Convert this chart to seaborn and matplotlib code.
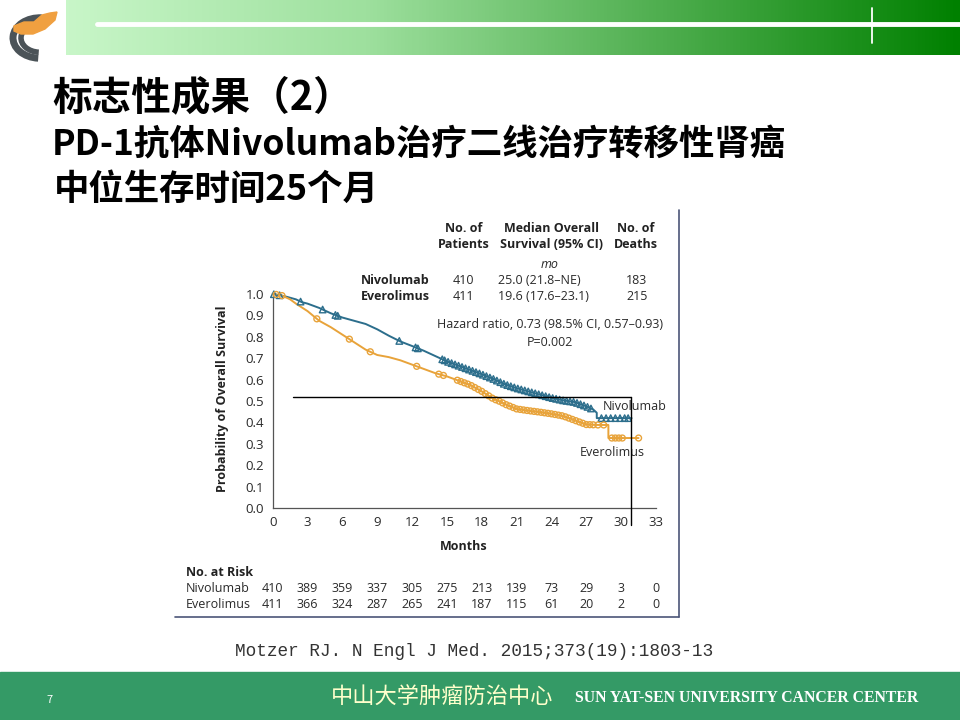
import numpy as np
import matplotlib
matplotlib.use("Agg")
import matplotlib.pyplot as plt
import matplotlib.transforms as mtransforms
from matplotlib.patches import Rectangle, Arc, Polygon
import seaborn as sns

''' Data read off the slide '''
# Kaplan-Meier curve points (months, probability of overall survival)
nivo_t = [0.0, 1.0, 2.0, 2.5, 3.0, 4.0, 5.0, 6.0, 7.0, 8.0, 9.0, 10.0, 11.0, 12.0, 13.0, 14.0,
          15.0, 16.0, 17.0, 18.0, 19.0, 20.0, 21.0, 22.0, 23.0, 24.0, 25.0, 26.0, 27.0, 27.6,
          27.9, 27.9, 30.9]
nivo_s = [1.0, 0.99, 0.975, 0.962, 0.955, 0.935, 0.91, 0.89, 0.875, 0.86, 0.835, 0.805, 0.778,
          0.757, 0.735, 0.71, 0.685, 0.665, 0.645, 0.625, 0.603, 0.578, 0.56, 0.545, 0.53,
          0.515, 0.503, 0.495, 0.475, 0.46, 0.445, 0.42, 0.42]
ever_t = [0.0, 0.7, 1.5, 2.0, 3.0, 4.0, 5.0, 6.0, 7.0, 8.0, 9.0, 10.0, 11.0, 12.0, 13.0, 14.0,
          15.0, 16.0, 17.0, 18.0, 19.0, 19.6, 20.0, 21.0, 22.0, 23.0, 24.0, 25.0, 26.0, 27.0,
          28.0, 28.9, 28.9, 31.5]
ever_s = [1.0, 0.995, 0.975, 0.955, 0.92, 0.875, 0.845, 0.81, 0.775, 0.74, 0.715, 0.705, 0.69,
          0.67, 0.65, 0.63, 0.615, 0.595, 0.575, 0.545, 0.51, 0.497, 0.485, 0.463, 0.455,
          0.448, 0.44, 0.43, 0.41, 0.39, 0.388, 0.388, 0.327, 0.327]

# censoring marks (months)
nivo_cens = [0.1, 0.6, 2.4, 4.3, 5.4, 5.6, 10.9, 12.3, 12.5, 14.6, 14.8, 15.1, 15.4, 15.7, 16.0,
             16.3, 16.6, 16.9, 17.2, 17.5, 17.8, 18.1, 18.4, 18.7, 19.0, 19.3, 19.6, 19.9,
             20.2, 20.5, 20.8, 21.1, 21.4, 21.7, 22.0, 22.3, 22.6, 22.9, 23.2, 23.5, 23.8,
             24.1, 24.4, 24.7, 25.0, 25.3, 25.6, 25.9, 26.2, 26.5, 26.8, 27.1, 27.4, 28.3,
             28.7, 29.1, 29.5, 29.9, 30.3, 30.6]
ever_cens = [0.3, 0.8, 3.8, 6.6, 8.4, 12.4, 14.3, 14.7, 15.9, 16.2, 16.5, 16.8, 17.1, 17.4,
             17.7, 18.0, 18.3, 18.6, 18.9, 19.2, 19.5, 19.8, 20.1, 20.4, 20.7, 21.0, 21.3,
             21.6, 21.9, 22.2, 22.5, 22.8, 23.1, 23.4, 23.7, 24.0, 24.3, 24.6, 24.9, 25.2,
             25.5, 25.8, 26.1, 26.4, 26.7, 27.0, 27.3, 27.6, 28.0, 28.5, 29.2, 29.5, 29.8,
             30.1, 31.5]

risk_months = [0, 3, 6, 9, 12, 15, 18, 21, 24, 27, 30, 33]
nivo_risk = [410, 389, 359, 337, 305, 275, 213, 139, 73, 29, 3, 0]
ever_risk = [411, 366, 324, 287, 265, 241, 187, 115, 61, 20, 2, 0]

y_ticks = [0.0, 0.1, 0.2, 0.3, 0.4, 0.5, 0.6, 0.7, 0.8, 0.9, 1.0]
x_ticks = [0, 3, 6, 9, 12, 15, 18, 21, 24, 27, 30, 33]

TEAL = "#2c6e8c"
ORANGE = "#e8a33a"
LATIN = "Open Sans"
CJK = ["Noto Sans CJK SC", "DejaVu Sans"]
FS = 9

sns.set_style("white")
plt.rcParams['font.family'] = CJK

fig = plt.figure(figsize=(9.6, 7.2), dpi=100)

''' Slide background (pixel coordinates) '''
bg = fig.add_axes([0, 0, 1, 1])
bg.set_xlim(0, 960)
bg.set_ylim(720, 0)
bg.axis("off")
bg.set_zorder(0)

grad = np.linspace(0, 1, 256)[None, :]
cmap = matplotlib.colors.LinearSegmentedColormap.from_list(
    "hdr", ["#c8f6c8", "#9ee09e", "#4fae4f", "#008000"])
bg.imshow(grad, cmap=cmap, aspect="auto", extent=(66, 960, 55, 0), zorder=1)
bg.plot([97, 960], [24, 24], color="white", lw=3.5, zorder=2)
bg.plot([872, 872], [8, 43], color="white", lw=1.3, zorder=2)

# logo
for r, lw in [(27, 5), (19, 4)]:
    bg.add_patch(Arc((40, 38), 2 * r, 1.5 * r, theta1=95, theta2=275, color="#4b5358",
                     lw=lw, zorder=3))
bg.add_patch(Polygon([(14, 26), (24, 22), (34, 22), (42, 15), (50, 13), (57, 12), (55, 20),
                      (45, 29), (33, 34), (21, 34), (14, 31)], closed=True,
                     color="#f0a040", zorder=4))

# titles
bg.text(52, 98, "标志性成果（2）", fontsize=28.5, fontweight="bold", va="center", ha="left",
        family=CJK, color="black")
bg.text(52, 145, "PD-1抗体Nivolumab治疗二线治疗转移性肾癌", fontsize=25.5, fontweight="bold",
        va="center", ha="left", family=CJK, color="black")
bg.text(54, 189, "中位生存时间25个月", fontsize=25.5, fontweight="bold", va="center", ha="left",
        family=CJK, color="black")

# figure panel frame
bg.plot([679, 679], [210, 617], color="#4b5578", lw=1.2)
bg.plot([175, 679], [617, 617], color="#4b5578", lw=1.2)

# citation
bg.text(474, 652, "Motzer RJ. N Engl J Med. 2015;373(19):1803-13", fontsize=12.8,
        family="Liberation Mono", ha="center", va="center", color="#333333")

# footer band
bg.add_patch(Rectangle((0, 672), 960, 48, color="#349a66", zorder=1))
bg.text(50, 700, "7", fontsize=8, color="white", ha="center", va="center", zorder=3)
bg.text(442, 697, "中山大学肿瘤防治中心", fontsize=16, color="#ffffcc", ha="center",
        va="center", family=CJK, zorder=3)
bg.text(747, 698, "SUN YAT-SEN UNIVERSITY CANCER CENTER", fontsize=11.3, fontweight="bold",
        color="white", ha="center", va="center", family="Liberation Serif", zorder=3)

''' Kaplan-Meier panel '''
ax = fig.add_axes([272.7 / 960, (720 - 508) / 720, 383.3 / 960, 214 / 720])
ax.set_zorder(1)
ax.patch.set_alpha(0)

sns.lineplot(x=nivo_t, y=nivo_s, estimator=None, sort=False, color=TEAL, lw=1.4, ax=ax,
             clip_on=False)
sns.lineplot(x=ever_t, y=ever_s, estimator=None, sort=False, color=ORANGE, lw=1.4, ax=ax,
             clip_on=False)
sns.scatterplot(x=nivo_cens, y=np.interp(nivo_cens, nivo_t, nivo_s), marker="^", s=22,
                color=TEAL, facecolors="none", edgecolor=TEAL, linewidth=1.0, ax=ax,
                clip_on=False, zorder=3)
sns.scatterplot(x=ever_cens, y=np.interp(ever_cens, ever_t, ever_s), marker="o", s=18,
                color=ORANGE, facecolors="none", edgecolor=ORANGE, linewidth=1.0, ax=ax,
                clip_on=False, zorder=3)

ax.set_xlim(0, 33)
ax.set_ylim(0, 1.0)
ax.set_xticks(x_ticks)
ax.set_yticks(y_ticks)
ax.set_yticklabels([f"{v:.1f}" for v in y_ticks])
for s in ["top", "right"]:
    ax.spines[s].set_visible(False)
for s in ["left", "bottom"]:
    ax.spines[s].set_color("#555555")
    ax.spines[s].set_linewidth(0.9)
ax.tick_params(direction="out", length=4, width=0.8, colors="#555555", labelcolor="#2a2a2a",
               labelsize=9.5, pad=2)
for lab in ax.get_xticklabels() + ax.get_yticklabels():
    lab.set_family(LATIN)

ax.set_ylabel("Probability of Overall Survival", fontsize=FS, fontweight="bold",
              family=LATIN, color="#222222")
ax.yaxis.set_label_coords(-0.115, 0.51)
ax.set_xlabel("Months", fontsize=FS, fontweight="bold", family=LATIN, color="#222222")
ax.xaxis.set_label_coords(0.499, -0.18)
ax.xaxis.label.set_verticalalignment("center")

ax.text(28.4, 0.476, "Nivolumab", fontsize=FS, family=LATIN, color="#2a2a2a", va="center")
ax.text(26.4, 0.258, "Everolimus", fontsize=FS, family=LATIN, color="#2a2a2a", va="center")

# legend table above the curves
hdr = dict(fontsize=FS, fontweight="bold", family=LATIN, color="#222222", ha="center",
           va="center")
bg.text(464, 237, "No. of\nPatients", linespacing=1.3, **hdr)
bg.text(551, 237, "Median Overall\nSurvival (95% CI)", linespacing=1.3, **hdr)
bg.text(636, 237, "No. of\nDeaths", linespacing=1.3, **hdr)
bg.text(550, 265, "mo", fontsize=FS, style="italic", family=LATIN, color="#2a2a2a",
        ha="center", va="center")
reg = dict(fontsize=FS, family=LATIN, color="#2a2a2a", va="center")
bg.text(430, 280, "Nivolumab", fontsize=FS, fontweight="bold", family=LATIN,
        color="#222222", ha="right", va="center")
bg.text(430, 296, "Everolimus", fontsize=FS, fontweight="bold", family=LATIN,
        color="#222222", ha="right", va="center")
bg.text(463, 280, "410", ha="center", **reg)
bg.text(463, 296, "411", ha="center", **reg)
bg.text(498, 280, "25.0 (21.8\u2013NE)", ha="left", **reg)
bg.text(498, 296, "19.6 (17.6\u201323.1)", ha="left", **reg)
bg.text(637, 280, "183", ha="center", **reg)
bg.text(637, 296, "215", ha="center", **reg)
bg.text(550, 325, "Hazard ratio, 0.73 (98.5% CI, 0.57\u20130.93)", ha="center", **reg)
bg.text(550, 342, "P=0.002", ha="center", **reg)

# number at risk
bg.text(186, 572, "No. at Risk", fontsize=FS, fontweight="bold", family=LATIN,
        color="#222222", ha="left", va="center")
bg.text(186, 589, "Nivolumab", ha="left", **reg)
bg.text(186, 604, "Everolimus", ha="left", **reg)
tr = mtransforms.blended_transform_factory(ax.transData, bg.transData)
for m, a, b in zip(risk_months, nivo_risk, ever_risk):
    ax.text(m, 589, str(a), transform=tr, ha="center", **reg)
    ax.text(m, 604, str(b), transform=tr, ha="center", **reg)

''' Overlay guide lines drawn on the slide '''
fg = fig.add_axes([0, 0, 1, 1])
fg.set_xlim(0, 960)
fg.set_ylim(720, 0)
fg.axis("off")
fg.set_zorder(5)
fg.patch.set_alpha(0)
fg.plot([293, 631], [397, 397], color="black", lw=1)
fg.plot([631, 631], [397, 525], color="black", lw=1)

fig.savefig("out.png", dpi=100)
